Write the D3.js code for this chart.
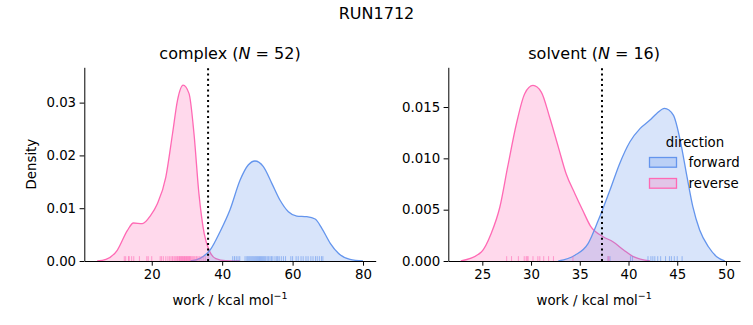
<!DOCTYPE html>
<html><head><meta charset="utf-8">
<script src="https://cdn.jsdelivr.net/npm/d3@7"></script>
<style>
body{margin:0;background:#fff}
svg{display:block}
text{font-family:"DejaVu Sans",sans-serif;fill:#000}
</style>
</head><body><svg id="c" width="753" height="325"></svg>
<script>
// ---------- data ----------
const suptitle = "RUN1712";
const phases = ["complex", "solvent"];
const phaseN = [52, 16];
const directions = ["forward", "reverse"];
const dirColors = ["#6495ED", "#FF69B4"];

// KDE curves: [work, density]
const complexForward = [[31.0,0],[33.7,0.0005],[36.6,0.0021],[39.4,0.00555],[42.2,0.00966],[45.1,0.01534],[47.4,0.01818],[49.3,0.01894],[51.7,0.01786],[54.1,0.01471],[56.4,0.01155],[58.8,0.00934],[61.2,0.00852],[64.0,0.00839],[66.4,0.00795],[68.3,0.00619],[70.7,0.00335],[73.0,0.00146],[76.3,0.0003],[80.0,0]];
const complexReverse = [[4.5,0],[7.0,0.0003],[10.2,0.00203],[13.1,0.0058],[14.8,0.0072],[17.3,0.00707],[19.7,0.00865],[21.6,0.01085],[24.0,0.0159],[25.9,0.0241],[27.3,0.0304],[28.9,0.0333],[30.6,0.0317],[32.0,0.0241],[33.4,0.01275],[34.9,0.00517],[36.3,0.00203],[38.2,0.00044],[41.0,0.00005],[45.0,0]];
const solventForward = [[32.8,0],[34.5,0.00056],[35.85,0.00169],[36.9,0.00396],[38.1,0.00692],[39.1,0.00951],[40.15,0.01162],[41.2,0.01292],[42.2,0.01373],[42.9,0.01438],[43.7,0.01487],[44.6,0.01422],[45.3,0.01178],[46.0,0.00821],[46.6,0.00529],[47.3,0.00302],[48.2,0.00139],[49.05,0.00042],[49.9,0]];
const solventReverse = [[22.8,0],[24.9,0.00088],[25.9,0.00266],[26.8,0.00526],[27.6,0.00916],[28.5,0.01337],[29.35,0.0163],[30.2,0.0171],[31.05,0.01646],[31.9,0.01403],[32.8,0.0111],[33.6,0.0085],[34.5,0.00656],[35.3,0.00494],[36.1,0.0034],[37.4,0.00237],[38.4,0.00188],[39.5,0.00107],[40.5,0.00042],[42.2,0]];

// rug samples
const complexForwardWork = [43.0,43.5,44.0,44.5,45.0,46.5,47.0,47.3,47.6,47.9,48.2,48.5,48.8,49.1,49.4,49.7,50.0,50.3,50.6,50.9,51.2,51.5,51.8,52.1,52.4,52.8,53.2,53.6,54.0,54.4,55.0,55.5,55.8,56.2,56.8,57.4,58.0,59.5,60.0,61.0,61.6,62.4,63.0,63.8,64.4,65.2,65.8,66.5,67.0,67.6,68.2,68.6];
const complexReverseWork = [12.2,12.6,13.4,13.6,14.3,14.9,16.5,18.6,19.0,20.0,22.4,22.8,23.3,24.0,24.6,25.1,25.5,25.9,26.3,26.6,26.9,27.2,27.4,27.7,27.9,28.1,28.3,28.5,28.7,28.9,29.1,29.3,29.5,29.7,29.9,30.1,30.3,30.5,30.7,30.9,31.1,31.4,31.7,32.0,32.3,32.7,33.1,33.5,34.0,34.6,35.2,36.0];
const solventForwardWork = [37.9,38.1,40.2,40.4,42.0,42.3,42.5,42.7,43.0,43.3,43.8,44.2,44.4,44.7,45.0,45.5];
const solventReverseWork = [27.5,28.0,28.7,29.3,29.5,29.6,29.7,30.2,30.7,30.9,31.3,31.8,32.3,34.3,37.9,38.0];

const markerWork = [36.0, 37.28];

const complexXTicks = [20,40,60,80];
const complexYTicks = [0,0.01,0.02,0.03];
const solventXTicks = [25,30,35,40,45,50];
const solventYTicks = [0,0.005,0.010,0.015];
const xLabel = "work / kcal mol";
const yLabel = "Density";
const legendTitle = "direction";

// ---------- layout ----------
const panels = [
  {name:phases[0], n:phaseN[0], x0:84.3, x1:375.7, xDom:[0.85,83.6], yDom:[0,0.03669],
   xTicks:complexXTicks, yTicks:complexYTicks, yFmt:".2f",
   curves:[complexForward, complexReverse], rugs:[complexForwardWork, complexReverseWork],
   vline:markerWork[0], legend:false, ylabel:true},
  {name:phases[1], n:phaseN[1], x0:448.3, x1:740, xDom:[21.51,51.44], yDom:[0,0.01887],
   xTicks:solventXTicks, yTicks:solventYTicks, yFmt:".3f",
   curves:[solventForward, solventReverse], rugs:[solventForwardWork, solventReverseWork],
   vline:markerWork[1], legend:true, ylabel:false}
];
const plotTop = 67.3, plotBottom = 261;
const svg = d3.select("#c");
const FS = 13.33;

svg.append("text").attr("x", 376.5).attr("y", 18.5).attr("text-anchor","middle")
  .attr("font-size", 16).text(suptitle);

panels.forEach(p => {
  const x = d3.scaleLinear().domain(p.xDom).range([p.x0, p.x1]);
  const y = d3.scaleLinear().domain(p.yDom).range([plotBottom, plotTop]);
  const g = svg.append("g");

  const area = d3.area().x(d => x(d[0])).y0(y(0)).y1(d => y(d[1])).curve(d3.curveMonotoneX);
  const line = d3.line().x(d => x(d[0])).y(d => y(d[1])).curve(d3.curveMonotoneX);

  [1,0].forEach(i => {
    g.append("path").attr("d", area(p.curves[i])).attr("fill", dirColors[i]).attr("fill-opacity", 0.25);
    g.append("path").attr("d", line(p.curves[i])).attr("fill","none").attr("stroke", dirColors[i]).attr("stroke-width", 1.3);
  });

  const rugH = 0.025 * (plotBottom - plotTop);
  [0,1].forEach(i => {
    g.selectAll(null).data(p.rugs[i]).enter().append("line")
      .attr("x1", d => x(d)).attr("x2", d => x(d))
      .attr("y1", plotBottom).attr("y2", plotBottom - rugH)
      .attr("stroke", dirColors[i]).attr("stroke-width", 1).attr("stroke-opacity", 0.6);
  });

  g.append("line").attr("x1", x(p.vline)).attr("x2", x(p.vline))
    .attr("y1", plotBottom).attr("y2", plotTop)
    .attr("stroke","#000").attr("stroke-width",2).attr("stroke-dasharray","2,3.3");

  const xa = g.append("g").attr("transform", `translate(0,${plotBottom})`)
    .call(d3.axisBottom(x).tickValues(p.xTicks).tickSize(4.7).tickSizeOuter(0).tickPadding(3.5).tickFormat(d3.format("d")));
  const ya = g.append("g").attr("transform", `translate(${p.x0},0)`)
    .call(d3.axisLeft(y).tickValues(p.yTicks).tickSize(4.7).tickSizeOuter(0).tickPadding(3.5).tickFormat(d3.format(p.yFmt)));
  [xa, ya].forEach(a => {
    a.selectAll("text").attr("font-size", FS).attr("font-family","DejaVu Sans").attr("fill","#000");
    a.selectAll("line").attr("stroke","#000").attr("stroke-width",1);
    a.select(".domain").attr("stroke","#000").attr("stroke-width",1);
  });

  const cx = (p.x0 + p.x1) / 2;
  const t = g.append("text").attr("x", cx).attr("y", 59).attr("text-anchor","middle").attr("font-size", 16);
  t.append("tspan").text(p.name + " (");
  t.append("tspan").attr("font-style","italic").text("N");
  t.append("tspan").text(" = " + p.n + ")");

  const xl = g.append("text").attr("x", cx).attr("y", 304.5).attr("text-anchor","middle").attr("font-size", FS);
  xl.append("tspan").text(xLabel);
  xl.append("tspan").attr("font-size", 9.5).attr("dy", -5.5).text("\u22121");

  if (p.ylabel) {
    g.append("text").attr("transform", `translate(35.5,${(plotTop+plotBottom)/2}) rotate(-90)`)
      .attr("text-anchor","middle").attr("font-size", FS).text(yLabel);
  }

  if (p.legend) {
    const lg = g.append("g");
    lg.append("text").attr("x", 695).attr("y", 146.5).attr("text-anchor","middle").attr("font-size", FS).text(legendTitle);
    directions.forEach((dname, i) => {
      const yy = 157.5 + i * 21;
      lg.append("rect").attr("x", 649.5).attr("y", yy).attr("width", 27).attr("height", 9.7)
        .attr("fill", dirColors[i]).attr("fill-opacity", 0.25)
        .attr("stroke", dirColors[i]).attr("stroke-width", 1.3);
      lg.append("text").attr("x", 688.5).attr("y", yy + 9.5).attr("font-size", FS).text(dname);
    });
  }
});
</script></body></html>
